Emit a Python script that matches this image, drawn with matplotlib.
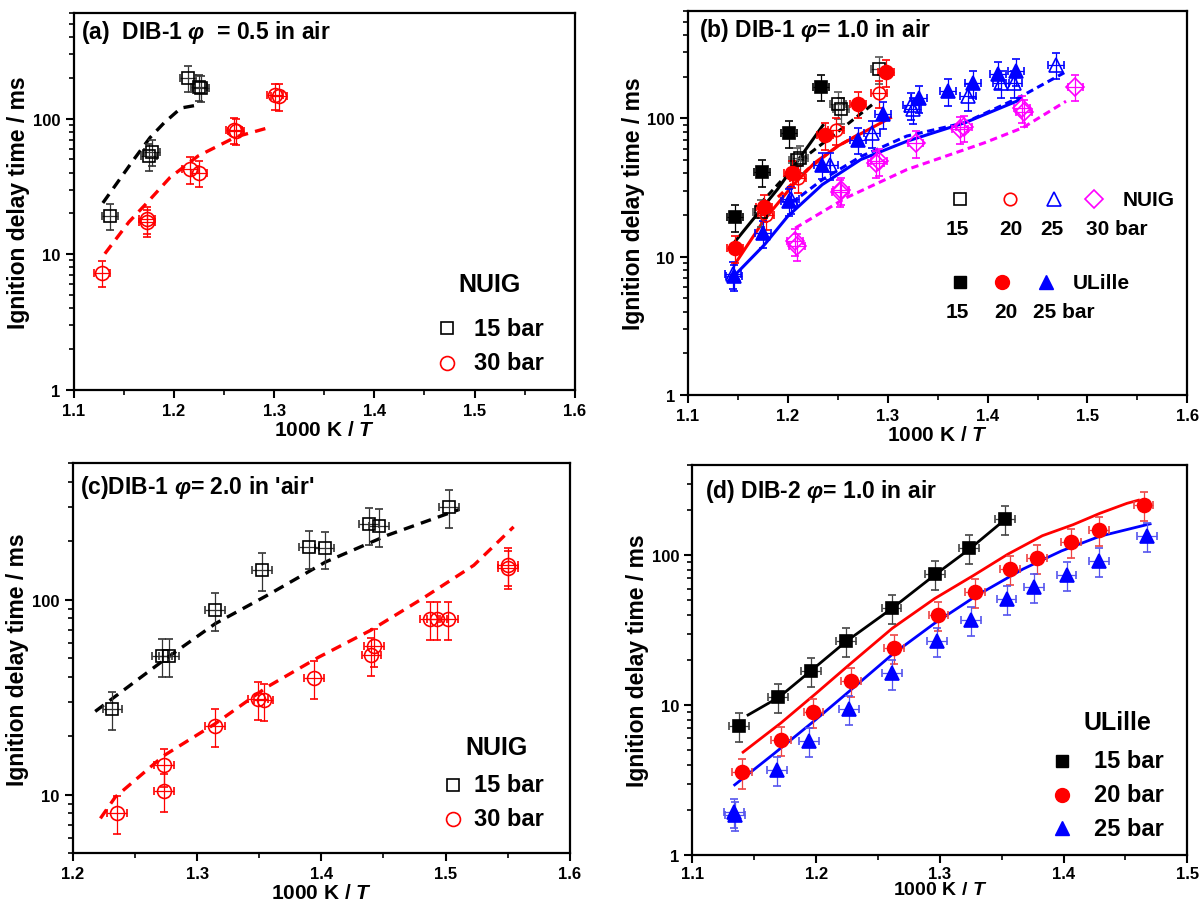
import matplotlib
matplotlib.use("Agg")
import matplotlib.pyplot as plt
import numpy as np
from matplotlib.ticker import LogLocator, NullFormatter, MultipleLocator, FixedLocator, FuncFormatter

plt.rcParams['font.family'] = ['Liberation Sans', 'DejaVu Sans']
plt.rcParams['font.weight'] = 'bold'
plt.rcParams['axes.labelweight'] = 'bold'
plt.rcParams['mathtext.fontset'] = 'custom'
plt.rcParams['mathtext.rm'] = 'Liberation Sans:bold'
plt.rcParams['mathtext.it'] = 'Liberation Sans:italic:bold'
plt.rcParams['mathtext.bf'] = 'Liberation Sans:bold'

# ---- panel (a): DIB-1 phi=0.5, NUIG ----
a_15_x = [1.136, 1.175, 1.178, 1.214, 1.225, 1.227]
a_15_y = [19.3, 53, 57, 200, 172, 169]
a_30_x = [1.128, 1.173, 1.173, 1.216, 1.225, 1.260, 1.262, 1.301, 1.305]
a_30_y = [7.3, 17.3, 18.2, 42.4, 40, 83, 81.6, 148, 147]
a_15_model_x = [1.129, 1.160, 1.176, 1.190, 1.207, 1.220]
a_15_model_y = [23.9, 50.1, 72.3, 92.9, 119.7, 124.5]
a_30_model_x = [1.131, 1.155, 1.172, 1.196, 1.224, 1.262, 1.296]
a_30_model_y = [10.1, 17.3, 23.5, 36.8, 53, 73.4, 86.4]

# ---- panel (b): DIB-1 phi=1.0, NUIG (open) + ULille (filled) ----
b_ul15_x = [1.1475, 1.1745, 1.2008, 1.2336]
b_ul15_y = [19.5, 40.7, 78.7, 170]
b_nu15_x = [1.173, 1.209, 1.2125, 1.2498, 1.253, 1.291]
b_nu15_y = [21.2, 50.3, 52, 127, 116, 227]
b_ul20_x = [1.1467, 1.1764, 1.2042, 1.237, 1.2703, 1.298]
b_ul20_y = [11.5, 23, 40.3, 75.3, 128, 215]
b_nu20_x = [1.178, 1.21, 1.2486, 1.291]
b_nu20_y = [20, 37, 82.5, 152]
b_ul25_x = [1.1456, 1.1753, 1.2008, 1.2344, 1.2699, 1.2954, 1.331, 1.36, 1.385, 1.41, 1.4283]
b_ul25_y = [7.2, 14.8, 25.1, 46.4, 70.3, 107, 141, 157, 181, 208, 220]
b_nu25_x = [1.145, 1.203, 1.2421, 1.2838, 1.3235, 1.3251, 1.38, 1.413, 1.4266, 1.4685]
b_nu25_y = [7.5, 26, 46, 78.7, 125, 116, 145, 181, 181, 245]
b_nu30_x = [1.2073, 1.209, 1.2525, 1.2535, 1.2884, 1.291, 1.3278, 1.3726, 1.376, 1.434, 1.4363, 1.488]
b_nu30_y = [12.9, 11.9, 29.2, 30.5, 47.6, 49, 66.6, 83.2, 86, 119, 111, 170]

b_ul15_model_x = [1.142, 1.19, 1.235]
b_ul15_model_y = [11.6, 31, 89]
b_nu15_model_x = [1.172, 1.21, 1.25, 1.287]
b_nu15_model_y = [24, 48, 80, 130]
b_ul20_model_x = [1.1463, 1.1764, 1.2035, 1.2266, 1.2498, 1.2807, 1.3027]
b_ul20_model_y = [8.7, 18.5, 32, 47.6, 63, 83, 101]
b_nu20_model_x = [1.19, 1.22, 1.25, 1.27]
b_nu20_model_y = [27, 43, 63, 76]
b_ul25_model_x = [1.1456, 1.1765, 1.1996, 1.2344, 1.273, 1.3193, 1.3772, 1.4333]
b_ul25_model_y = [7.2, 12.2, 19.5, 33.2, 50.4, 68.4, 93, 137]
b_nu25_model_x = [1.2035, 1.2344, 1.273, 1.319, 1.377, 1.431, 1.4768]
b_nu25_model_y = [24.4, 36, 53, 74.5, 93, 141, 214]
b_nu30_model_x = [1.2073, 1.2575, 1.3193, 1.3965, 1.4351, 1.4785]
b_nu30_model_y = [16.1, 26.5, 42.7, 66.5, 85.5, 133]

# ---- panel (c): DIB-1 phi=2.0, NUIG ----
c_15_x = [1.2319, 1.2716, 1.2771, 1.3146, 1.3521, 1.3901, 1.4026, 1.4387, 1.4465, 1.5028]
c_15_y = [27.5, 51.2, 51.5, 88.1, 141.6, 185, 183, 243, 239, 299]
c_30_x = [1.2355, 1.2736, 1.2736, 1.3141, 1.3488, 1.3535, 1.3943, 1.4404, 1.4423,
          1.4873, 1.4929, 1.5017, 1.55, 1.55]
c_30_y = [8.06, 14.1, 10.4, 22.4, 31, 30.4, 39.6, 51.8, 57.8, 79.8, 79.8, 79.8, 151, 145.5]
c_15_model_x = [1.218, 1.273, 1.3147, 1.3563, 1.4035, 1.4534, 1.5112]
c_15_model_y = [26.7, 48.8, 75.3, 105, 156, 214, 290]
c_30_model_x = [1.2222, 1.2341, 1.273, 1.3146, 1.3563, 1.398, 1.4396, 1.4812, 1.5228, 1.5548]
c_30_model_y = [7.55, 9.7, 15.8, 23.1, 35.6, 50.7, 69.5, 101, 150, 236]

# ---- panel (d): DIB-2 phi=1.0, ULille ----
d_15_x = [1.1379, 1.1693, 1.1957, 1.2243, 1.261, 1.2958, 1.3238, 1.3527]
d_15_y = [7.28, 11.3, 17, 26.7, 44.7, 75.1, 112, 174]
d_20_x = [1.1398, 1.1715, 1.1979, 1.228, 1.2632, 1.2989, 1.3284, 1.3564, 1.3782, 1.4061, 1.4288, 1.4646]
d_20_y = [3.56, 5.89, 9.04, 14.6, 24.2, 40, 56.9, 81, 96.5, 122, 147, 218]
d_25_x = [1.1336, 1.1345, 1.1684, 1.1942, 1.2268, 1.2616, 1.298, 1.3253, 1.3539, 1.376, 1.4024, 1.4285, 1.4674]
d_25_y = [1.94, 1.85, 3.7, 5.74, 9.5, 16.3, 26.7, 37.1, 51.4, 61.4, 73.9, 91.8, 134]
d_15_model_x = [1.145, 1.17, 1.196, 1.224, 1.261, 1.296, 1.324, 1.353]
d_15_model_y = [8.6, 11.3, 17, 26.5, 44, 74, 110, 174]
d_20_model_x = [1.141, 1.1715, 1.1995, 1.2274, 1.2616, 1.2958, 1.3269, 1.3549, 1.3828, 1.4077, 1.4294, 1.4512, 1.4605]
d_20_model_y = [4.86, 7.6, 11.9, 18.8, 32.6, 51.4, 73.1, 101.6, 135, 160, 190.6, 222, 233]
d_25_model_x = [1.1342, 1.1653, 1.1995, 1.2274, 1.2616, 1.2958, 1.33, 1.3673, 1.3984, 1.4294, 1.4699]
d_25_model_y = [2.94, 4.7, 7.98, 12.5, 21.8, 35.2, 54, 81, 107, 134, 162]

XERR = 0.008
YREL = 0.22

RED = '#ff0000'
BLUE = '#0000ff'
MAG = '#ff00ff'


def points(ax, x, y, marker, color, filled, ms, ecolor=None):
    x = np.array(x)
    y = np.array(y)
    ax.errorbar(x, y, xerr=XERR, yerr=y * YREL, fmt=marker, ms=ms,
                mfc=color if filled else 'none', mec=color, mew=1.2,
                ecolor=ecolor if ecolor else color, elinewidth=0.9,
                capsize=3, capthick=0.9, zorder=3)


def setup(ax, xlim, xticks, ylim, yticks):
    ax.set_yscale('log')
    ax.set_xlim(*xlim)
    ax.set_ylim(*ylim)
    ax.set_xticks(xticks)
    ax.xaxis.set_minor_locator(MultipleLocator(0.05))
    ax.yaxis.set_major_locator(FixedLocator(yticks))
    ax.yaxis.set_major_formatter(FuncFormatter(lambda v, p: '%g' % v))
    ax.yaxis.set_minor_locator(LogLocator(base=10, subs=range(2, 10)))
    ax.yaxis.set_minor_formatter(NullFormatter())
    ax.xaxis.set_major_formatter(FuncFormatter(lambda v, p: '%.1f' % v))
    ax.tick_params(which='major', direction='out', length=6, width=1.5, labelsize=12)
    ax.tick_params(which='minor', direction='out', length=3.5, width=1.2)
    for s in ax.spines.values():
        s.set_linewidth(1.6)
    ax.set_xlabel('1000 K / $T$', fontsize=15, labelpad=1)
    ax.set_ylabel('Ignition delay time / ms', fontsize=16.5, labelpad=2)


fig = plt.figure(figsize=(12.02, 9.04), dpi=100)
ax_a = fig.add_axes([0.0614, 0.5675, 0.4168, 0.417])
ax_b = fig.add_axes([0.5724, 0.5619, 0.4154, 0.4251])
ax_c = fig.add_axes([0.0606, 0.055, 0.4134, 0.4314])
ax_d = fig.add_axes([0.576, 0.053, 0.4118, 0.4315])

dash_a = (0, (3.2, 2.2))
dash_b = (0, (2.4, 1.5))

# (a)
setup(ax_a, (1.1, 1.6), [1.1, 1.2, 1.3, 1.4, 1.5, 1.6], (1, 600), [1, 10, 100])
ax_a.plot(a_15_model_x, a_15_model_y, color='black', lw=2.4, ls=dash_a)
ax_a.plot(a_30_model_x, a_30_model_y, color=RED, lw=2.4, ls=dash_a)
points(ax_a, a_15_x, a_15_y, 's', 'black', False, 8, ecolor='#333333')
points(ax_a, a_30_x, a_30_y, 'o', RED, False, 10)
ax_a.text(0.015, 0.95, r'(a)  DIB-1 $\varphi$  = 0.5 in air', transform=ax_a.transAxes,
          fontsize=16.5, va='center', ha='left')
ax_a.text(0.829, 0.281, 'NUIG', transform=ax_a.transAxes, fontsize=18, ha='center', va='center')
ax_a.plot([0.745], [0.164], 's', ms=8, mfc='none', mec='black', mew=1.2, transform=ax_a.transAxes)
ax_a.text(0.798, 0.164, '15 bar', transform=ax_a.transAxes, fontsize=17, va='center')
ax_a.plot([0.745], [0.0716], 'o', ms=10, mfc='none', mec=RED, mew=1.2, transform=ax_a.transAxes)
ax_a.text(0.798, 0.0716, '30 bar', transform=ax_a.transAxes, fontsize=17, va='center')

# (b)
setup(ax_b, (1.1, 1.6), [1.1, 1.2, 1.3, 1.4, 1.5, 1.6], (1, 600), [1, 10, 100])
ax_b.plot(b_ul15_model_x, b_ul15_model_y, color='black', lw=2.2)
ax_b.plot(b_nu15_model_x, b_nu15_model_y, color='black', lw=2.2, ls=dash_b)
ax_b.plot(b_ul20_model_x, b_ul20_model_y, color=RED, lw=2.2)
ax_b.plot(b_nu20_model_x, b_nu20_model_y, color=RED, lw=2.2, ls=dash_b)
ax_b.plot(b_ul25_model_x, b_ul25_model_y, color=BLUE, lw=2.2)
ax_b.plot(b_nu25_model_x, b_nu25_model_y, color=BLUE, lw=2.2, ls=dash_b)
ax_b.plot(b_nu30_model_x, b_nu30_model_y, color=MAG, lw=2.2, ls=dash_b)
points(ax_b, b_nu15_x, b_nu15_y, 's', 'black', False, 9, ecolor='#555555')
points(ax_b, b_nu20_x, b_nu20_y, 'o', RED, False, 9)
points(ax_b, b_nu25_x, b_nu25_y, '^', BLUE, False, 10)
points(ax_b, b_nu30_x, b_nu30_y, 'D', MAG, False, 9)
points(ax_b, b_ul15_x, b_ul15_y, 's', 'black', True, 9)
points(ax_b, b_ul20_x, b_ul20_y, 'o', RED, True, 10)
points(ax_b, b_ul25_x, b_ul25_y, '^', BLUE, True, 10)
ax_b.text(0.022, 0.95, r'(b) DIB-1 $\varphi$= 1.0 in air', transform=ax_b.transAxes,
          fontsize=16.5, va='center', ha='left')
tb = ax_b.transAxes
ax_b.plot([0.544], [0.51], 's', ms=8, mfc='none', mec='black', mew=1.2, transform=tb)
ax_b.plot([0.644], [0.51], 'o', ms=9, mfc='none', mec=RED, mew=1.2, transform=tb)
ax_b.plot([0.733], [0.51], '^', ms=10, mfc='none', mec=BLUE, mew=1.2, transform=tb)
ax_b.plot([0.813], [0.51], 'D', ms=9, mfc='none', mec=MAG, mew=1.2, transform=tb)
ax_b.text(0.871, 0.51, 'NUIG', transform=tb, fontsize=15, va='center')
ax_b.text(0.540, 0.4346, '15', transform=tb, fontsize=15, va='center', ha='center')
ax_b.text(0.6465, 0.4346, '20', transform=tb, fontsize=15, va='center', ha='center')
ax_b.text(0.729, 0.4346, '25', transform=tb, fontsize=15, va='center', ha='center')
ax_b.text(0.798, 0.4346, '30 bar', transform=tb, fontsize=15, va='center')
ax_b.plot([0.544], [0.294], 's', ms=8, color='black', transform=tb)
ax_b.plot([0.629], [0.294], 'o', ms=10, color=RED, transform=tb)
ax_b.plot([0.717], [0.294], '^', ms=10, color=BLUE, transform=tb)
ax_b.text(0.771, 0.294, 'ULille', transform=tb, fontsize=15, va='center')
ax_b.text(0.540, 0.2186, '15', transform=tb, fontsize=15, va='center', ha='center')
ax_b.text(0.636, 0.2186, '20', transform=tb, fontsize=15, va='center', ha='center')
ax_b.text(0.690, 0.2186, '25 bar', transform=tb, fontsize=15, va='center')

# (c)
setup(ax_c, (1.2, 1.6), [1.2, 1.3, 1.4, 1.5, 1.6], (5, 500), [10, 100])
ax_c.plot(c_15_model_x, c_15_model_y, color='black', lw=2.4, ls=dash_a)
ax_c.plot(c_30_model_x, c_30_model_y, color=RED, lw=2.4, ls=dash_a)
points(ax_c, c_15_x, c_15_y, 's', 'black', False, 8, ecolor='#333333')
points(ax_c, c_30_x, c_30_y, 'o', RED, False, 10)
ax_c.text(0.015, 0.94, r"(c)DIB-1 $\varphi$= 2.0 in 'air'", transform=ax_c.transAxes,
          fontsize=16.5, va='center', ha='left')
tc = ax_c.transAxes
ax_c.text(0.852, 0.2726, 'NUIG', transform=tc, fontsize=18, ha='center', va='center')
ax_c.plot([0.765], [0.176], 's', ms=8, mfc='none', mec='black', mew=1.2, transform=tc)
ax_c.text(0.807, 0.176, '15 bar', transform=tc, fontsize=17, va='center')
ax_c.plot([0.765], [0.088], 'o', ms=10, mfc='none', mec=RED, mew=1.2, transform=tc)
ax_c.text(0.807, 0.088, '30 bar', transform=tc, fontsize=17, va='center')

# (d)
setup(ax_d, (1.1, 1.5), [1.1, 1.2, 1.3, 1.4, 1.5], (1, 400), [1, 10, 100])
ax_d.tick_params(axis='x', which='major', pad=1.5)
ax_d.set_xlabel('1000 K / $T$', fontsize=14, labelpad=0)
ax_d.plot(d_15_model_x, d_15_model_y, color='black', lw=2)
ax_d.plot(d_20_model_x, d_20_model_y, color=RED, lw=2)
ax_d.plot(d_25_model_x, d_25_model_y, color=BLUE, lw=2)
points(ax_d, d_15_x, d_15_y, 's', 'black', True, 9, ecolor='#444444')
points(ax_d, d_20_x, d_20_y, 'o', RED, True, 10, ecolor='#ee4444')
points(ax_d, d_25_x, d_25_y, '^', BLUE, True, 10, ecolor='#5555ee')
ax_d.text(0.025, 0.935, r'(d) DIB-2 $\varphi$= 1.0 in air', transform=ax_d.transAxes,
          fontsize=16.5, va='center', ha='left')
td = ax_d.transAxes
ax_d.text(0.858, 0.342, 'ULille', transform=td, fontsize=18, ha='center', va='center')
ax_d.plot([0.746], [0.242], 's', ms=8, color='black', transform=td)
ax_d.text(0.8115, 0.242, '15 bar', transform=td, fontsize=17, va='center')
ax_d.plot([0.746], [0.155], 'o', ms=10, color=RED, transform=td)
ax_d.text(0.8115, 0.155, '20 bar', transform=td, fontsize=17, va='center')
ax_d.plot([0.746], [0.069], '^', ms=10, color=BLUE, transform=td)
ax_d.text(0.8115, 0.069, '25 bar', transform=td, fontsize=17, va='center')

fig.savefig('out.png', dpi=100)
